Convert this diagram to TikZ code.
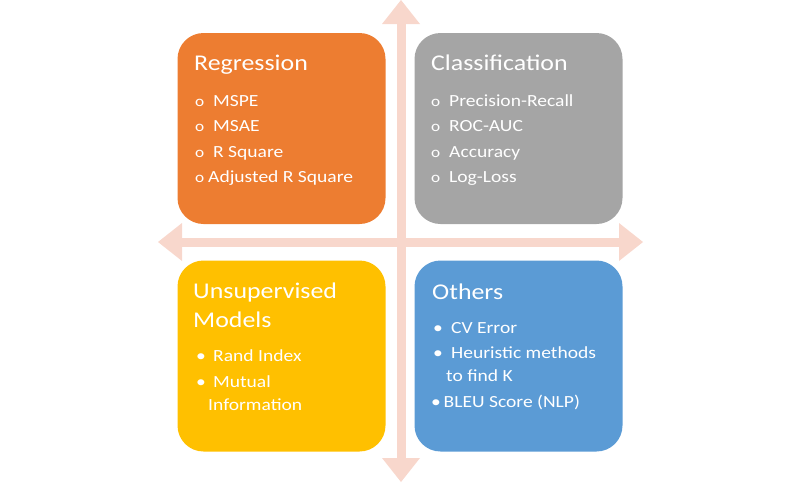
\documentclass[tikz,border=0pt]{standalone}
\usepackage{fontspec}
\setmainfont{Carlito}[FakeStretch=1.15]
\usetikzlibrary{arrows.meta, positioning}
\definecolor{cOrange}{RGB}{237,125,49}
\definecolor{cGrey}{RGB}{165,165,165}
\definecolor{cYellow}{RGB}{255,192,0}
\definecolor{cBlue}{RGB}{91,155,213}
\definecolor{cPink}{RGB}{248,215,204}
\newcommand{\hb}[1]{\makebox[#1][l]{\fontsize{15}{18}\selectfont o}}
\newcommand{\fb}[1]{\makebox[#1][l]{\textbullet}}

\begin{document}
\begin{tikzpicture}[x=1pt, y=-1pt,
    ar/.style={cPink, line width=9pt,
      {Triangle[width=38pt,length=24pt,line width=0pt]}-{Triangle[width=38pt,length=24pt,line width=0pt]}},
    quad/.style={rounded corners=26pt, minimum width=208pt, minimum height=191pt, inner sep=0pt},
    ttl/.style={anchor=base west, inner sep=0pt, text=white, font=\fontsize{22.5}{26}\selectfont},
    itm/.style={anchor=base west, inner sep=0pt, text=white, font=\fontsize{17}{20}\selectfont}]
    \useasboundingbox (0,0) rectangle (800,483);

    % ---------- axes ----------
    \coordinate (top) at (401,0);
    \coordinate (bot) at (401,482);
    \coordinate (lft) at (158,242);
    \coordinate (rgt) at (643,242);
    \draw[ar] (bot) -- (top);
    \draw[ar] (lft) -- (rgt);

    % ---------- quadrants ----------
    \node[quad, fill=cOrange] (reg) at (281.5,128.5) {};
    \node[quad, fill=cGrey]   (cls) at (518.5,128.5) {};
    \node[quad, fill=cYellow] (uns) at (281.5,356) {};
    \node[quad, fill=cBlue]   (oth) at (518.5,356) {};

    % ---------- regression ----------
    \node[ttl] (regT) at (194,70) {Regression};
    \node[itm] (reg1) at (195,106) {\hb{18pt}MSPE};
    \node[itm] (reg2) at (195,131.5) {\hb{18pt}MSAE};
    \node[itm] (reg3) at (195,157) {\hb{18pt}R Square};
    \node[itm] (reg4) at (195,182.5) {\hb{13pt}Adjusted R Square};

    % ---------- classification ----------
    \node[ttl] (clsT) at (431,70) {Classification};
    \node[itm] (cls1) at (431,106) {\hb{18pt}Precision-Recall};
    \node[itm] (cls2) at (431,131.5) {\hb{18pt}ROC-AUC};
    \node[itm] (cls3) at (431,157) {\hb{18pt}Accuracy};
    \node[itm] (cls4) at (431,182.5) {\hb{18pt}Log-Loss};

    % ---------- unsupervised ----------
    \node[ttl] (unsT) at (193,298) {Unsupervised};
    \node[ttl] (unsM) at (193,327) {Models};
    \node[itm] (uns1) at (196,361) {\fb{17pt}Rand Index};
    \node[itm] (uns2) at (196,387) {\fb{17pt}Mutual};
    \node[itm] (uns3) at (208,410) {Information};

    % ---------- others ----------
    \node[ttl] (othT) at (432,299) {Others};
    \node[itm] (oth1) at (433,333) {\fb{18pt}CV Error};
    \node[itm] (oth2) at (433,358) {\fb{18pt}Heuristic methods};
    \node[itm] (oth3) at (446,381) {to find K};
    \node[itm] (oth4) at (431,407) {\fb{12.5pt}BLEU Score (NLP)};

\end{tikzpicture}
\end{document}
